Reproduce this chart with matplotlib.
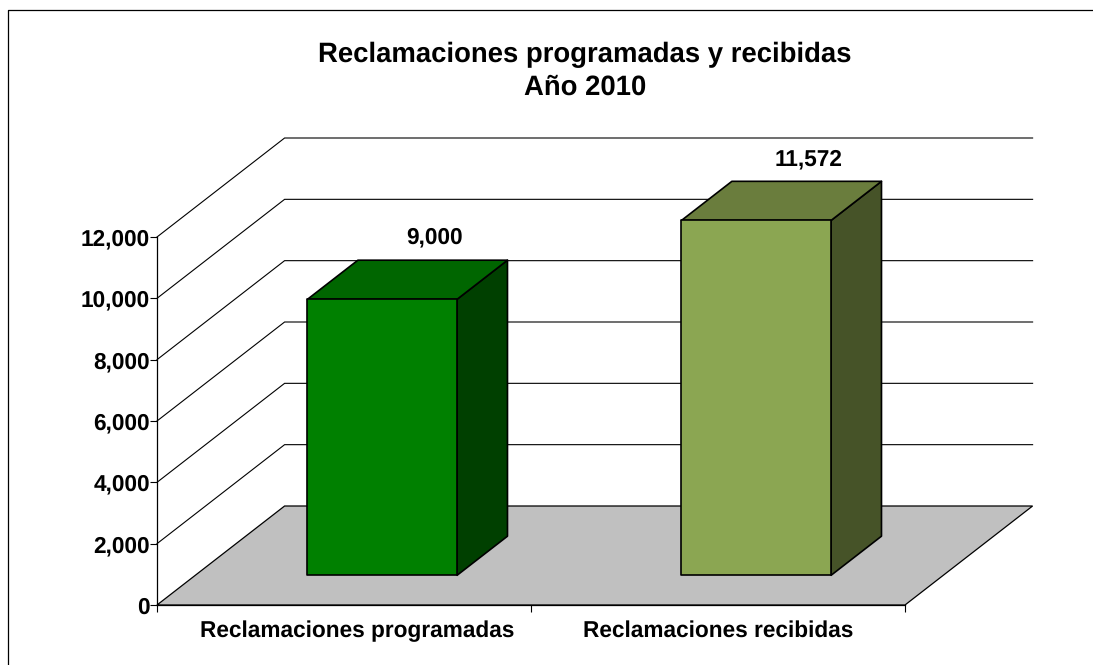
import matplotlib
matplotlib.use("Agg")
import matplotlib.pyplot as plt
from matplotlib.lines import Line2D
from matplotlib.patches import Polygon

plt.rcParams['font.family'] = ['Liberation Sans', 'DejaVu Sans']
plt.rcParams['text.hinting'] = 'no_hinting'

# Data
categories = ["Reclamaciones programadas", "Reclamaciones recibidas"]
values = [9000, 11572]
value_labels = ["9,000", "11,572"]
y_ticks = [0, 2000, 4000, 6000, 8000, 10000, 12000]
title_lines = ["Reclamaciones programadas y recibidas", "Año 2010"]

# Style
W, H = 1093, 665
AX_L, AX_R, AX_B, AX_T = 157, 905, 605, 237
DEPTH_PX = (127.6, 99.0)
BAR_START = [0.30, 1.30]
BAR_WIDTH = 0.40
BAR_D0, BAR_D1 = 0.30, 0.695
LABEL_POS = [0.535, 1.50]
FRONT = ["#008000", "#8BA652"]
TOP = ["#006600", "#6A7D3D"]
SIDE = ["#004000", "#465328"]
FLOOR = "#C0C0C0"
FS = 16.3
FS_TITLE = 19.8

fig = plt.figure(figsize=(W / 100, H / 100), dpi=100, facecolor="white")
ax = fig.add_axes([AX_L / W, 1 - AX_B / H, (AX_R - AX_L) / W, (AX_B - AX_T) / H])
ax.set_xlim(0, 2)
ax.set_ylim(0, 12000)
ax.patch.set_visible(False)

sx = 2 / (AX_R - AX_L)
sy = 12000 / (AX_B - AX_T)
DX, DY = DEPTH_PX[0] * sx, DEPTH_PX[1] * sy


def proj(x, y, d=0.0):
    return (x + d * DX, y + d * DY)


LW = 0.9
# floor
ax.add_patch(Polygon([proj(0, 0), proj(2, 0), proj(2, 0, 1), proj(0, 0, 1)],
                     closed=True, facecolor=FLOOR, edgecolor="black", linewidth=LW,
                     clip_on=False, zorder=1))
# gridlines
for t in y_ticks[1:]:
    a, b, c = proj(0, t), proj(0, t, 1), proj(2, t, 1)
    ax.plot([a[0], b[0], c[0]], [a[1], b[1], c[1]], color="black", lw=0.8,
            clip_on=False, zorder=1, solid_joinstyle="miter")

# bars
for i, v in enumerate(values):
    x0, x1 = BAR_START[i], BAR_START[i] + BAR_WIDTH
    zb = 3 + i
    ec = dict(edgecolor="black", linewidth=1.2, clip_on=False, zorder=zb, joinstyle="round")
    ax.add_patch(Polygon([proj(x1, 0, BAR_D0), proj(x1, 0, BAR_D1), proj(x1, v, BAR_D1), proj(x1, v, BAR_D0)],
                         closed=True, facecolor=SIDE[i], **ec))
    ax.add_patch(Polygon([proj(x0, v, BAR_D0), proj(x1, v, BAR_D0), proj(x1, v, BAR_D1), proj(x0, v, BAR_D1)],
                         closed=True, facecolor=TOP[i], **ec))
    ax.add_patch(Polygon([proj(x0, 0, BAR_D0), proj(x1, 0, BAR_D0), proj(x1, v, BAR_D0), proj(x0, v, BAR_D0)],
                         closed=True, facecolor=FRONT[i], **ec))
    ax.annotate(value_labels[i], xy=proj((x0 + x1) / 2, v, BAR_D1), xytext=(1, 16),
                textcoords="offset points", ha="center", va="center",
                fontsize=FS, fontweight="bold", color="black", annotation_clip=False, zorder=6)

# axes
for s in ("top", "right"):
    ax.spines[s].set_visible(False)
ax.spines["left"].set_linewidth(LW)
ax.spines["bottom"].set_linewidth(LW)
ax.set_yticks(y_ticks)
ax.set_yticklabels([f"{t:,}" for t in y_ticks], fontsize=FS, fontweight="bold")
ax.tick_params(axis="y", length=5, width=0.8, pad=0)
ax.set_xticks([0, 1, 2])
ax.set_xticklabels([])
ax.tick_params(axis="x", which="major", length=5, width=0.8)
ax.set_xticks(LABEL_POS, minor=True)
ax.set_xticklabels(categories, minor=True, fontsize=FS, fontweight="bold")
ax.tick_params(axis="x", which="minor", length=0, pad=11)

# title
fig.text(585 / W, 1 - 55 / H, title_lines[0], ha="center", va="center", fontsize=FS_TITLE, fontweight="bold")
fig.text(585 / W, 1 - 87 / H, title_lines[1], ha="center", va="center", fontsize=FS_TITLE, fontweight="bold")

# outer frame (left and top only in the crop)
fig.add_artist(Line2D([7.5 / W, 7.5 / W, 1], [0, 1 - 9.5 / H, 1 - 9.5 / H], color="black", lw=0.9,
                      transform=fig.transFigure))

fig.savefig("out.png", dpi=100)
